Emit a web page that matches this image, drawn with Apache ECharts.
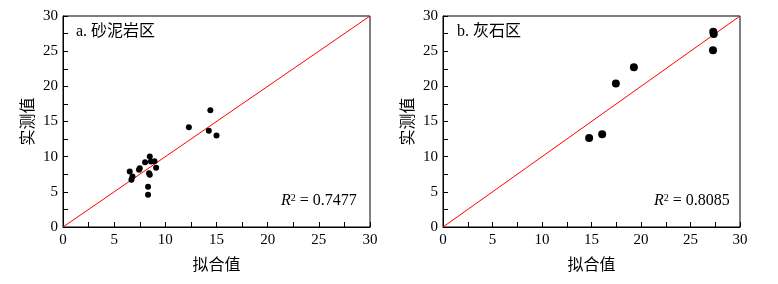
<!DOCTYPE html>
<html><head><meta charset="utf-8">
<script src="https://cdn.jsdelivr.net/npm/echarts@6/dist/echarts.min.js"></script>
<style>html,body{margin:0;padding:0;background:#fff}#c{width:778px;height:284px}</style>
</head><body><div id="c"></div>
<script>
// Panel a: 砂泥岩区 (fitted, measured)
const sandFitted   = [6.52, 6.69, 6.79, 7.43, 7.5, 8.02, 8.48, 8.6, 8.94, 9.1, 8.41, 8.48, 8.31, 8.31, 12.3, 14.4, 14.25, 15.0];
const sandMeasured = [7.89, 6.72, 7.18, 8.13, 8.36, 9.21, 10.02, 9.3, 9.35, 8.42, 7.65, 7.42, 5.73, 4.59, 14.2, 16.6, 13.7, 13.0];
// Panel b: 灰石区
const limeFitted   = [14.76, 16.08, 17.46, 19.28, 27.27, 27.3, 27.35];
const limeMeasured = [12.66, 13.18, 20.41, 22.72, 25.13, 27.75, 27.45];
// 1:1 line
const refLine = [[0, 0], [30, 30]];
const axisTicks = [0, 5, 10, 15, 20, 25, 30];
const panelTitles = ['a. 砂泥岩区', 'b. 灰石区'];
const r2Values = ['0.7477', '0.8085'];
const xName = '拟合值', yName = '实测值';

const FONT = '"Liberation Serif", "Noto Sans CJK SC", serif';
const zip = (a, b) => a.map((v, i) => [v, b[i]]);

function xAxis(gi) {
  return {
    gridIndex: gi, type: 'value', min: 0, max: 30, interval: 5,
    name: xName, nameLocation: 'middle', nameGap: 31,
    nameTextStyle: { fontFamily: FONT, fontSize: 16, color: '#000' },
    axisLine: { show: true, lineStyle: { color: '#000', width: 1 } },
    axisTick: { show: true, inside: true, length: 5, lineStyle: { color: '#000' } },
    minorTick: { show: true, splitNumber: 2, length: 5, lineStyle: { color: '#000' } },
    axisLabel: { fontFamily: FONT, fontSize: 15, color: '#000', margin: 6,
      formatter: v => axisTicks.includes(v) ? String(v) : '' },
    splitLine: { show: false }
  };
}
function yAxis(gi) {
  return {
    gridIndex: gi, type: 'value', min: 0, max: 30, interval: 5,
    name: yName, nameLocation: 'middle', nameGap: 26, nameRotate: 90,
    nameTextStyle: { fontFamily: FONT, fontSize: 16, color: '#000' },
    axisLine: { show: true, lineStyle: { color: '#000', width: 1 } },
    axisTick: { show: true, inside: true, length: 5, lineStyle: { color: '#000' } },
    minorTick: { show: true, splitNumber: 2, length: 5, lineStyle: { color: '#000' } },
    axisLabel: { fontFamily: FONT, fontSize: 15, color: '#000', margin: 5,
      formatter: v => axisTicks.includes(v) ? String(v) : '' },
    splitLine: { show: false }
  };
}
function r2Title(i, left, top) {
  return {
    text: '{i|R}{s|2}{n| = ' + r2Values[i] + '}', left: left, top: top,
    padding: 0,
    textStyle: { fontWeight: 'normal', rich: {
      i: { fontFamily: FONT, fontStyle: 'italic', fontWeight: 'normal', fontSize: 16, color: '#000' },
      s: { fontFamily: FONT, fontWeight: 'normal', fontSize: 10, color: '#000', verticalAlign: 'top', padding: [0, 0, 6, 0] },
      n: { fontFamily: FONT, fontWeight: 'normal', fontSize: 16, color: '#000' }
    } }
  };
}

const chart = echarts.init(document.getElementById('c'), null, { renderer: 'canvas' });
chart.setOption({
  animation: false,
  backgroundColor: '#fff',
  grid: [
    { left: 63, right: 408, top: 16, bottom: 57, show: true, borderColor: '#000', borderWidth: 1 },
    { left: 443, right: 38, top: 16, bottom: 57, show: true, borderColor: '#000', borderWidth: 1 }
  ],
  title: [
    { text: panelTitles[0], left: 76, top: 24, padding: 0, textStyle: { fontFamily: FONT, fontSize: 16, fontWeight: 'normal', color: '#000' } },
    { text: panelTitles[1], left: 457, top: 24, padding: 0, textStyle: { fontFamily: FONT, fontSize: 16, fontWeight: 'normal', color: '#000' } },
    r2Title(0, 281, 193),
    r2Title(1, 654, 193)
  ],
  xAxis: [xAxis(0), xAxis(1)],
  yAxis: [yAxis(0), yAxis(1)],
  series: [
    { type: 'line', xAxisIndex: 0, yAxisIndex: 0, data: refLine, showSymbol: false, silent: true,
      lineStyle: { color: '#ff0000', width: 1 }, z: 1 },
    { type: 'line', xAxisIndex: 1, yAxisIndex: 1, data: refLine, showSymbol: false, silent: true,
      lineStyle: { color: '#ff0000', width: 1 }, z: 1 },
    { type: 'scatter', xAxisIndex: 0, yAxisIndex: 0, data: zip(sandFitted, sandMeasured),
      symbolSize: 6, itemStyle: { color: '#000', opacity: 1 }, z: 3 },
    { type: 'scatter', xAxisIndex: 1, yAxisIndex: 1, data: zip(limeFitted, limeMeasured),
      symbolSize: 8, itemStyle: { color: '#000', opacity: 1 }, z: 3 }
  ]
});
</script></body></html>
